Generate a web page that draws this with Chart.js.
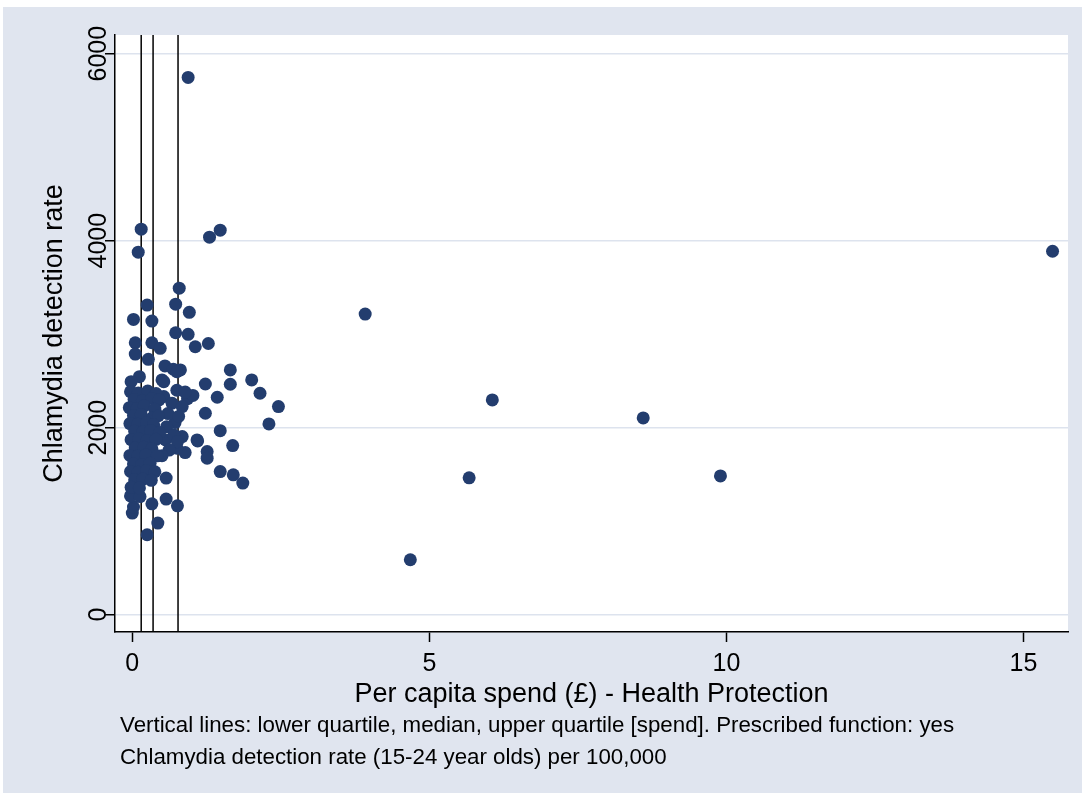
<!DOCTYPE html>
<html>
<head>
<meta charset="utf-8">
<script src="https://cdn.jsdelivr.net/npm/chart.js@4.4.1/dist/chart.umd.min.js"></script>
<style>
  html, body { margin: 0; padding: 0; background: #fff; }
  canvas { display: block; }
</style>
</head>
<body>
<canvas id="SPENDRATE" width="1085" height="798"></canvas>
<script>
// per capita spend (x) and detection rate (y), one entry per local authority
var spend = [
    0.94, 0.15, 0.10, 1.30, 1.48, 0.79, 15.49, 3.92, 6.06, 5.67, 4.68, 8.60, 9.90,
    0.73, 0.25, 0.96, 0.02, 0.33, 0.73, 0.94, 0.05, 0.33, 0.47, 1.06, 1.28,
    0.05, 0.27, 0.55, 0.81, 0.69, 1.65, 0.12, -0.02, 0.50, 1.23, 1.65, 2.01,
    2.15, 2.46, 2.30, 1.43, 1.23, 0.93, 1.48, 1.69, 1.10, 1.26, 1.26, 1.48,
    1.70, 1.86, 0.89, 0.72, 0.57, 0.57, 0.76, 0.33, 0.43, 0.25, 0.00, 0.02,
    -0.03, 0.13, 0.75, 0.53, 0.75, 1.02, 0.89, 0.53, 0.67, 0.84, 0.58, 0.56,
    0.84, 1.09, 0.75, 0.70, 0.76, 0.60, 0.78, 0.62, 0.50,
    -0.03, 0.10, 0.26, 0.40, 0.03, 0.17, 0.33, 0.45, -0.05, 0.08, 0.20, 0.38,
    0.02, 0.15, 0.34, 0.44, -0.04, 0.09, 0.24, 0.36, 0.04, 0.18, 0.31, 0.46,
    -0.02, 0.11, 0.25, 0.40, 0.05, 0.19, 0.33, -0.04, 0.09, 0.23, 0.42,
    0.02, 0.16, 0.30, -0.03, 0.10, 0.24, 0.38, 0.04, 0.18, 0.32, -0.02, 0.12
];
var rate = [
    5746, 4123, 3877, 4037, 4112, 3492, 3887, 3215, 2296, 1463, 587, 2104, 1484,
    3321, 3311, 3233, 3158, 3140, 3015, 2998, 2908, 2908, 2848, 2865, 2900,
    2787, 2731, 2660, 2617, 2625, 2617, 2545, 2492, 2510, 2467, 2464, 2510,
    2368, 2225, 2040, 2325, 2154, 2310, 1968, 1808, 1858, 1744, 1673, 1530,
    1495, 1407, 1733, 2054, 1460, 1236, 1164, 1185, 979, 854, 1086, 1150,
    1270, 1263, 2598, 2492, 2400, 2345, 2380, 2332, 2261, 2225, 2010, 1869,
    1904, 1869, 1780, 1922, 1850, 2150, 2120, 1760, 1700,
    2384, 2371, 2392, 2365, 2302, 2290, 2311, 2296, 2214, 2205, 2232, 2198,
    2131, 2140, 2108, 2127, 2043, 2036, 2051, 2030, 1962, 1955, 1970, 1948,
    1871, 1880, 1862, 1875, 1782, 1790, 1774, 1703, 1696, 1710, 1698,
    1612, 1605, 1620, 1531, 1524, 1540, 1528, 1442, 1450, 1436, 1362, 1355
];
var quartiles = [0.15, 0.35, 0.77];
var xTicks = [0, 5, 10, 15];
var yTicks = [0, 2000, 4000, 6000];
var xTitle = 'Per capita spend (\u00a3) - Health Protection';
var yTitle = 'Chlamydia detection rate';
var notes = [
    'Vertical lines: lower quartile, median, upper quartile [spend]. Prescribed function: yes',
    'Chlamydia detection rate (15-24 year olds) per 100,000'
];

var navy = '#233d6e';
var panelGray = '#e0e5ef';
var gridGray = '#dde3ee';
var fontFamily = "'Liberation Sans', Arial, sans-serif";

var points = spend.map(function (s, i) { return { x: s, y: rate[i] }; });

var stataFrame = {
    id: 'stataFrame',
    beforeDraw: function (chart) {
        var c = chart.ctx, a = chart.chartArea;
        c.save();
        c.fillStyle = '#fff';
        c.fillRect(0, 0, chart.width, chart.height);
        c.fillStyle = panelGray;
        c.fillRect(3, 7, 1079, 786);
        c.fillStyle = '#fff';
        c.fillRect(a.left, a.top, a.right - a.left, a.bottom - a.top);
        c.restore();
    },
    beforeDatasetsDraw: function (chart) {
        // quartile lines
        var c = chart.ctx, a = chart.chartArea, xs = chart.scales.x;
        c.save();
        c.strokeStyle = '#000';
        c.lineWidth = 1.5;
        quartiles.forEach(function (q) {
            var px = xs.getPixelForValue(q);
            c.beginPath();
            c.moveTo(px, a.top);
            c.lineTo(px, a.bottom);
            c.stroke();
        });
        c.restore();
    },
    afterDraw: function (chart) {
        var c = chart.ctx, a = chart.chartArea;
        c.save();
        c.fillStyle = '#000';
        c.textBaseline = 'alphabetic';
        // x title
        c.font = '27px ' + fontFamily;
        c.textAlign = 'center';
        c.fillText(xTitle, (a.left + a.right) / 2, 702);
        // y title
        c.translate(62, (a.top + a.bottom) / 2);
        c.rotate(-Math.PI / 2);
        c.fillText(yTitle, 0, 0);
        c.setTransform(1, 0, 0, 1, 0, 0);
        // notes
        c.font = '22.3px ' + fontFamily;
        c.textAlign = 'left';
        c.fillText(notes[0], 120, 732);
        c.fillText(notes[1], 120, 764);
        c.restore();
    }
};

var ctxSpend = document.getElementById('SPENDRATE').getContext('2d');
var spendChart = new Chart(ctxSpend, {
    type: 'scatter',
    data: {
        datasets: [{
            data: points,
            backgroundColor: navy,
            borderWidth: 0,
            pointRadius: 6.5,
            pointHoverRadius: 6.5
        }]
    },
    options: {
        responsive: false,
        animation: false,
        layout: { padding: { top: 35, right: 17, left: 0, bottom: 0 } },
        plugins: {
            legend: { display: false },
            tooltip: { enabled: false }
        },
        scales: {
            x: {
                type: 'linear',
                min: -0.291,
                max: 15.75,
                afterBuildTicks: function (s) { s.ticks = xTicks.map(function (v) { return { value: v }; }); },
                afterFit: function (s) { s.height = 166; },
                grid: { drawOnChartArea: false, tickLength: 10, tickColor: '#000', tickWidth: 1.5 },
                border: { display: true, color: '#000', width: 1.5 },
                ticks: {
                    font: { family: fontFamily, size: 25 },
                    color: '#000',
                    padding: 7,
                    maxRotation: 0,
                    autoSkip: false,
                    callback: function (v) { return String(v); }
                }
            },
            y: {
                type: 'linear',
                min: -186,
                max: 6200,
                afterBuildTicks: function (s) { s.ticks = yTicks.map(function (v) { return { value: v }; }); },
                afterFit: function (s) { s.width = 115; },
                grid: { color: gridGray, lineWidth: 1.5, tickLength: 10, tickColor: '#000', tickWidth: 1.5 },
                border: { display: true, color: '#000', width: 1.5 },
                ticks: {
                    font: { family: fontFamily, size: 25 },
                    color: '#000',
                    minRotation: 90,
                    maxRotation: 90,
                    crossAlign: 'center',
                    padding: -22,
                    autoSkip: false,
                    callback: function (v) { return String(v); }
                }
            }
        }
    },
    plugins: [stataFrame]
});
</script>
</body>
</html>
